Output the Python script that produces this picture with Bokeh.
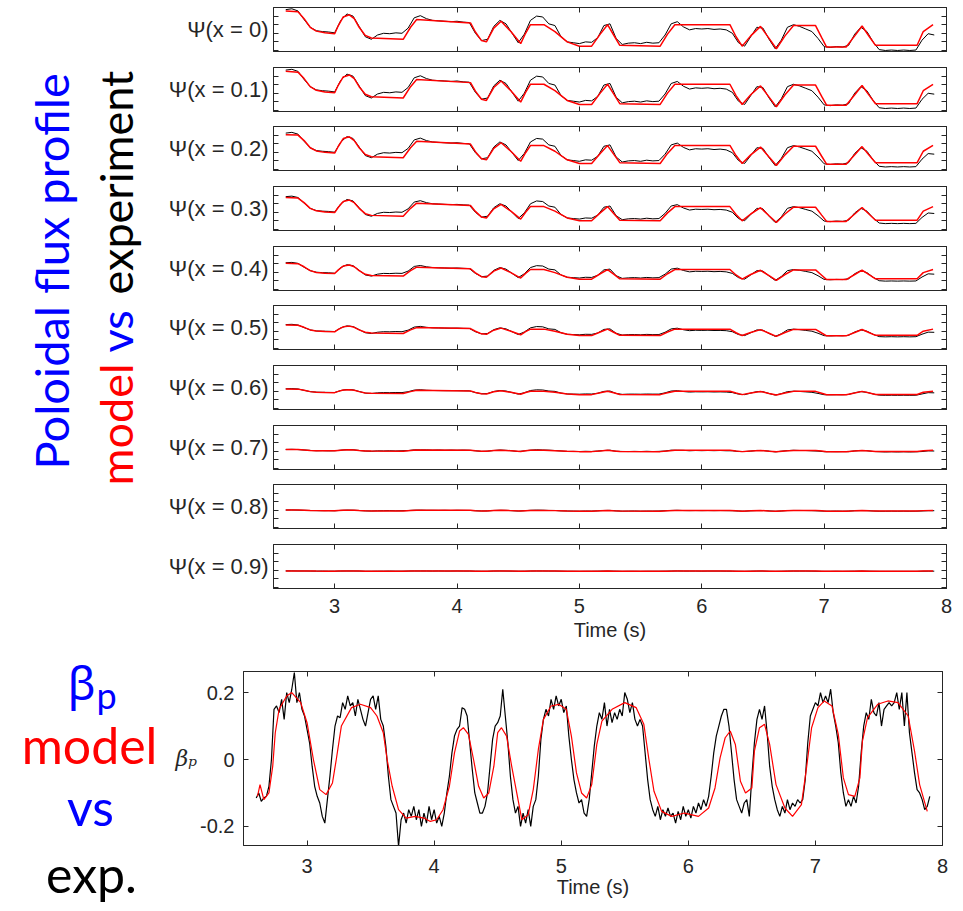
import numpy as np
from bokeh.plotting import figure
from bokeh.models import Range1d, FixedTicker, LinearAxis, Label
from bokeh.layouts import column, row
from bokeh.embed import file_html
from bokeh.resources import INLINE

# ---------------- data ----------------
PANEL_LABELS = ["Ψ(x = 0)", "Ψ(x = 0.1)", "Ψ(x = 0.2)", "Ψ(x = 0.3)", "Ψ(x = 0.4)",
                "Ψ(x = 0.5)", "Ψ(x = 0.6)", "Ψ(x = 0.7)", "Ψ(x = 0.8)", "Ψ(x = 0.9)"]
TIME_TICKS = [3, 4, 5, 6, 7, 8]
PSI_TICKS = [0, 1, 2, 3, 4]
BP_TICKS = [-0.2, 0, 0.2]
BP_TICK_TEXT = ["-0.2", "0", "0.2"]

# model time keys (s)
T_M = [2.60, 2.70, 2.75, 2.80, 2.85, 2.92, 3.00, 3.03, 3.07, 3.12, 3.16, 3.20, 3.25, 3.30, 3.56,
       3.62, 3.67, 4.11, 4.15, 4.20, 4.24, 4.30, 4.36, 4.44, 4.52, 4.56, 4.60, 4.71, 4.80, 4.90,
       5.00, 5.10, 5.17, 5.23, 5.28, 5.33, 5.66, 5.72, 5.78, 6.23, 6.28, 6.33, 6.40, 6.48, 6.55,
       6.61, 6.68, 6.75, 6.93, 6.98, 7.02, 7.18, 7.25, 7.31, 7.37, 7.42, 7.76, 7.81, 7.89]

PSI_M0 = [4.6, 4.5, 3.7, 2.7, 2.25, 2.05, 1.95, 2.9, 3.9, 4.15, 3.7, 2.7, 1.75, 1.45, 1.3, 2.7, 3.6, 3.2, 2.15, 1.15,
          1.0, 2.6, 3.4, 2.2, 0.8, 2.0, 3.0, 3.0, 2.2, 1.0, 0.5, 0.5, 1.9, 3.0, 1.8, 0.6, 0.5, 1.9, 3.0, 3.0,
          1.6, 0.5, 1.7, 2.8, 1.4, 0.2, 1.7, 2.9, 2.9, 1.5, 0.4, 0.4, 1.7, 2.85, 1.6, 0.6, 0.6, 2.2, 3.0]
PSI_M1 = [4.55, 4.46, 3.71, 2.77, 2.35, 2.16, 2.06, 2.96, 3.90, 4.13, 3.71, 2.77, 1.88, 1.59, 1.45, 2.77, 3.61, 3.24, 2.25, 1.31,
          1.17, 2.67, 3.43, 2.30, 0.98, 2.11, 3.05, 3.05, 2.30, 1.17, 0.70, 0.70, 2.02, 3.05, 1.92, 0.79, 0.70, 2.02, 3.05, 3.05,
          1.73, 0.70, 1.83, 2.86, 1.55, 0.42, 1.83, 2.96, 2.96, 1.64, 0.61, 0.61, 1.83, 2.91, 1.73, 0.79, 0.79, 2.30, 3.05]
PSI_M2 = [4.05, 4.0, 3.36, 2.53, 2.16, 1.99, 1.91, 2.70, 3.60, 3.80, 3.36, 2.53, 1.74, 1.49, 1.37, 2.53, 3.28, 2.95, 2.07, 1.24,
          1.12, 2.45, 3.11, 2.12, 0.95, 1.95, 2.78, 2.78, 2.12, 1.12, 0.70, 0.70, 1.87, 2.78, 1.78, 0.79, 0.70, 1.87, 2.80, 2.80,
          1.62, 0.70, 1.70, 2.61, 1.45, 0.46, 1.70, 2.70, 2.70, 1.54, 0.62, 0.62, 1.70, 2.66, 1.62, 0.79, 0.79, 2.12, 2.80]
PSI_M3 = [3.72, 3.65, 3.12, 2.46, 2.17, 2.03, 1.97, 2.59, 3.25, 3.42, 3.12, 2.46, 1.84, 1.64, 1.54, 2.46, 3.06, 2.79, 2.10, 1.44,
          1.34, 2.40, 2.92, 2.13, 1.21, 2.0, 2.66, 2.66, 2.13, 1.34, 1.01, 1.01, 1.93, 2.66, 1.87, 1.08, 1.01, 1.93, 2.66, 2.66,
          1.74, 1.01, 1.80, 2.53, 1.60, 0.81, 1.80, 2.59, 2.59, 1.67, 0.94, 0.94, 1.80, 2.56, 1.74, 1.08, 1.08, 2.13, 2.66]
PSI_M4 = [3.04, 3.0, 2.64, 2.19, 1.98, 1.89, 1.85, 2.28, 2.73, 2.84, 2.64, 2.19, 1.76, 1.62, 1.56, 2.19, 2.59, 2.41, 1.94, 1.49,
          1.42, 2.14, 2.50, 1.96, 1.33, 1.87, 2.32, 2.32, 1.96, 1.42, 1.20, 1.20, 1.83, 2.32, 1.78, 1.24, 1.20, 1.83, 2.32, 2.32,
          1.69, 1.20, 1.74, 2.23, 1.60, 1.06, 1.74, 2.28, 2.28, 1.65, 1.15, 1.15, 1.74, 2.25, 1.69, 1.24, 1.24, 1.96, 2.32]
PSI_M5 = [2.73, 2.70, 2.46, 2.16, 2.03, 1.97, 1.94, 2.22, 2.52, 2.60, 2.46, 2.16, 1.88, 1.79, 1.74, 2.16, 2.43, 2.31, 2.0, 1.70,
          1.65, 2.13, 2.37, 2.01, 1.59, 1.95, 2.25, 2.25, 2.01, 1.65, 1.50, 1.50, 1.92, 2.25, 1.89, 1.53, 1.50, 1.92, 2.25, 2.25,
          1.83, 1.50, 1.86, 2.19, 1.77, 1.41, 1.86, 2.22, 2.22, 1.80, 1.47, 1.47, 1.86, 2.21, 1.83, 1.53, 1.53, 2.01, 2.25]
PSI_M6 = [2.27, 2.25, 2.12, 1.96, 1.89, 1.86, 1.84, 1.99, 2.15, 2.19, 2.12, 1.96, 1.81, 1.76, 1.74, 1.96, 2.11, 2.04, 1.87, 1.71,
          1.69, 1.95, 2.07, 1.88, 1.66, 1.85, 2.01, 2.01, 1.88, 1.69, 1.61, 1.61, 1.83, 2.01, 1.82, 1.63, 1.61, 1.83, 2.01, 2.01,
          1.79, 1.61, 1.80, 1.98, 1.75, 1.56, 1.80, 1.99, 1.99, 1.77, 1.59, 1.59, 1.80, 1.99, 1.79, 1.63, 1.63, 1.88, 2.01]
PSI_M7 = [2.21, 2.20, 2.15, 2.09, 2.07, 2.05, 2.05, 2.10, 2.16, 2.18, 2.15, 2.09, 2.04, 2.02, 2.01, 2.09, 2.15, 2.12, 2.06, 2.00,
          1.99, 2.09, 2.13, 2.06, 1.98, 2.05, 2.11, 2.11, 2.06, 1.99, 1.96, 1.96, 2.04, 2.11, 2.04, 1.97, 1.96, 2.04, 2.11, 2.11,
          2.03, 1.96, 2.03, 2.10, 2.01, 1.94, 2.03, 2.10, 2.10, 2.02, 1.95, 1.95, 2.03, 2.10, 2.03, 1.97, 1.97, 2.06, 2.11]
PSI_M8 = [2.03, 2.03, 2.0, 1.97, 1.96, 1.95, 1.95, 1.98, 2.01, 2.01, 2.0, 1.97, 1.94, 1.93, 1.93, 1.97, 2.0, 1.99, 1.95, 1.92,
          1.92, 1.97, 1.99, 1.96, 1.91, 1.95, 1.98, 1.98, 1.96, 1.92, 1.90, 1.90, 1.95, 1.98, 1.94, 1.91, 1.90, 1.95, 1.98, 1.98,
          1.94, 1.90, 1.94, 1.97, 1.93, 1.90, 1.94, 1.98, 1.98, 1.94, 1.90, 1.90, 1.94, 1.98, 1.94, 1.91, 1.91, 1.96, 1.98]
PSI_M9 = [1.926, 1.925, 1.917, 1.907, 1.902, 1.90, 1.90, 1.909, 1.919, 1.921, 1.917, 1.907, 1.897, 1.894, 1.893, 1.907, 1.916, 1.912, 1.901, 1.891,
          1.89, 1.906, 1.914, 1.902, 1.888, 1.90, 1.91, 1.91, 1.902, 1.89, 1.885, 1.885, 1.899, 1.91, 1.898, 1.886, 1.885, 1.899, 1.91, 1.91,
          1.896, 1.885, 1.897, 1.908, 1.894, 1.882, 1.897, 1.909, 1.909, 1.895, 1.884, 1.884, 1.897, 1.909, 1.896, 1.886, 1.886, 1.902, 1.91]

# experiment, sampled every 0.05 s from 2.60 s
PSI_E0 = [4.75, 4.85, 4.6, 3.6, 2.7, 2.3, 2.2, 2.15, 2.05, 3.5,
          4.25, 4.0, 2.8, 1.6, 1.3, 1.8, 2.0, 1.95, 2.05, 2.0,
          2.6, 3.8, 4.05, 3.7, 3.5, 3.45, 3.4, 3.35, 3.4, 3.3,
          3.25, 2.0, 1.15, 1.3, 2.8, 3.5, 3.1, 2.0, 0.9, 1.9,
          3.5, 4.0, 3.9, 3.1, 2.9, 1.6, 1.0, 0.9, 0.8, 1.0,
          0.95, 1.5, 2.9, 3.1, 1.4, 0.7, 0.85, 0.9, 0.8, 0.95,
          0.85, 0.9, 1.8, 3.1, 3.35, 2.75, 2.4, 2.55, 2.5, 2.55,
          2.45, 2.5, 2.4, 2.0, 0.9, 0.5, 1.6, 2.7, 2.6, 1.3,
          0.2, 1.2, 2.7, 3.0, 2.8, 2.5, 2.2, 1.4, 0.45, 0.35,
          0.45, 0.4, 0.6, 1.9, 2.7, 2.2, 1.0, 0.1, 0.0, 0.05,
          0.0, 0.05, 0.0, 0.05, 1.2, 1.95, 1.8]
PSI_E1 = [4.70, 4.79, 4.55, 3.61, 2.77, 2.39, 2.30, 2.25, 2.16, 3.52,
          4.23, 3.99, 2.86, 1.73, 1.45, 1.92, 2.11, 2.06, 2.16, 2.11,
          2.67, 3.80, 4.04, 3.71, 3.52, 3.47, 3.43, 3.38, 3.43, 3.33,
          3.29, 2.11, 1.31, 1.45, 2.86, 3.52, 3.14, 2.11, 1.08, 2.02,
          3.52, 3.99, 3.90, 3.14, 2.96, 1.73, 1.17, 1.08, 0.98, 1.17,
          1.12, 1.64, 2.96, 3.14, 1.55, 0.89, 1.03, 1.08, 0.98, 1.12,
          1.03, 1.08, 1.92, 3.14, 3.38, 2.82, 2.49, 2.63, 2.58, 2.63,
          2.53, 2.58, 2.49, 2.11, 1.08, 0.70, 1.73, 2.77, 2.67, 1.45,
          0.42, 1.36, 2.77, 3.05, 2.86, 2.58, 2.30, 1.55, 0.65, 0.56,
          0.65, 0.61, 0.79, 2.02, 2.77, 2.30, 1.17, 0.32, 0.23, 0.28,
          0.23, 0.28, 0.23, 0.28, 1.30, 2.00, 1.90]
PSI_E2 = [4.23, 4.32, 4.11, 3.28, 2.53, 2.20, 2.12, 2.07, 1.99, 3.20,
          3.82, 3.61, 2.61, 1.62, 1.37, 1.78, 1.95, 1.91, 1.99, 1.95,
          2.45, 3.44, 3.65, 3.36, 3.20, 3.15, 3.11, 3.07, 3.11, 3.03,
          2.99, 1.95, 1.24, 1.37, 2.61, 3.20, 2.86, 1.95, 1.04, 1.87,
          3.20, 3.61, 3.53, 2.86, 2.70, 1.62, 1.12, 1.04, 0.95, 1.12,
          1.08, 1.54, 2.70, 2.86, 1.45, 0.87, 1.00, 1.04, 0.95, 1.08,
          1.00, 1.04, 1.78, 2.86, 3.07, 2.57, 2.28, 2.41, 2.37, 2.41,
          2.32, 2.37, 2.28, 1.95, 1.04, 0.70, 1.62, 2.53, 2.45, 1.37,
          0.46, 1.29, 2.53, 2.78, 2.61, 2.37, 2.12, 1.45, 0.66, 0.58,
          0.66, 0.62, 0.79, 1.87, 2.53, 2.12, 1.12, 0.37, 0.29, 0.33,
          0.29, 0.33, 0.29, 0.33, 1.20, 1.85, 1.78]
PSI_E3 = [3.82, 3.88, 3.72, 3.06, 2.46, 2.20, 2.13, 2.10, 2.03, 2.99,
          3.49, 3.32, 2.53, 1.74, 1.54, 1.87, 2.00, 1.97, 2.03, 2.00,
          2.40, 3.19, 3.35, 3.12, 2.99, 2.96, 2.92, 2.89, 2.92, 2.86,
          2.83, 2.00, 1.44, 1.54, 2.53, 2.99, 2.73, 2.00, 1.27, 1.93,
          2.99, 3.32, 3.25, 2.73, 2.59, 1.74, 1.34, 1.27, 1.21, 1.34,
          1.31, 1.67, 2.59, 2.73, 1.60, 1.14, 1.24, 1.27, 1.21, 1.31,
          1.24, 1.27, 1.87, 2.73, 2.89, 2.50, 2.26, 2.36, 2.33, 2.36,
          2.30, 2.33, 2.26, 2.00, 1.27, 1.01, 1.74, 2.46, 2.40, 1.54,
          0.81, 1.47, 2.46, 2.66, 2.53, 2.33, 2.13, 1.60, 0.98, 0.91,
          0.98, 0.94, 1.08, 1.93, 2.46, 2.13, 1.34, 0.75, 0.68, 0.71,
          0.68, 0.71, 0.68, 0.71, 1.40, 1.92, 1.86]
PSI_E4 = [3.11, 3.15, 3.04, 2.59, 2.19, 2.01, 1.96, 1.94, 1.89, 2.55,
          2.88, 2.77, 2.23, 1.69, 1.56, 1.78, 1.87, 1.85, 1.89, 1.87,
          2.14, 2.68, 2.79, 2.64, 2.55, 2.52, 2.50, 2.48, 2.50, 2.46,
          2.43, 1.87, 1.49, 1.56, 2.23, 2.55, 2.37, 1.87, 1.38, 1.83,
          2.55, 2.77, 2.73, 2.37, 2.28, 1.69, 1.42, 1.38, 1.33, 1.42,
          1.40, 1.65, 2.28, 2.37, 1.60, 1.29, 1.35, 1.38, 1.33, 1.40,
          1.35, 1.38, 1.78, 2.37, 2.48, 2.21, 2.05, 2.12, 2.10, 2.12,
          2.07, 2.10, 2.05, 1.87, 1.38, 1.20, 1.69, 2.19, 2.14, 1.56,
          1.06, 1.51, 2.19, 2.32, 2.23, 2.10, 1.96, 1.60, 1.17, 1.13,
          1.17, 1.15, 1.24, 1.83, 2.19, 1.96, 1.42, 1.02, 0.97, 0.99,
          0.97, 0.99, 0.97, 0.99, 1.45, 1.82, 1.78]
PSI_E5 = [2.78, 2.81, 2.73, 2.43, 2.16, 2.04, 2.01, 2.00, 1.97, 2.40,
          2.63, 2.55, 2.19, 1.83, 1.74, 1.89, 1.95, 1.94, 1.97, 1.95,
          2.13, 2.49, 2.57, 2.46, 2.40, 2.39, 2.37, 2.36, 2.37, 2.34,
          2.33, 1.95, 1.70, 1.74, 2.19, 2.40, 2.28, 1.95, 1.62, 1.92,
          2.40, 2.55, 2.52, 2.28, 2.22, 1.83, 1.65, 1.62, 1.59, 1.65,
          1.64, 1.80, 2.22, 2.28, 1.77, 1.56, 1.61, 1.62, 1.59, 1.64,
          1.61, 1.62, 1.89, 2.28, 2.36, 2.18, 2.07, 2.12, 2.10, 2.12,
          2.09, 2.10, 2.07, 1.95, 1.62, 1.50, 1.83, 2.16, 2.13, 1.74,
          1.41, 1.71, 2.16, 2.25, 2.19, 2.10, 2.01, 1.77, 1.49, 1.46,
          1.49, 1.47, 1.53, 1.92, 2.16, 2.01, 1.65, 1.38, 1.35, 1.37,
          1.35, 1.37, 1.35, 1.37, 1.66, 1.90, 1.88]
PSI_E6 = [2.29, 2.31, 2.27, 2.11, 1.96, 1.90, 1.88, 1.87, 1.86, 2.09,
          2.21, 2.17, 1.98, 1.79, 1.74, 1.82, 1.85, 1.84, 1.86, 1.85,
          1.95, 2.14, 2.18, 2.12, 2.09, 2.08, 2.07, 2.07, 2.07, 2.06,
          2.05, 1.85, 1.71, 1.74, 1.98, 2.09, 2.03, 1.85, 1.67, 1.83,
          2.09, 2.17, 2.15, 2.03, 1.99, 1.79, 1.69, 1.67, 1.66, 1.69,
          1.68, 1.77, 1.99, 2.03, 1.75, 1.64, 1.67, 1.67, 1.66, 1.68,
          1.67, 1.67, 1.82, 2.03, 2.07, 1.97, 1.91, 1.94, 1.93, 1.94,
          1.92, 1.93, 1.91, 1.85, 1.67, 1.61, 1.79, 1.96, 1.95, 1.74,
          1.56, 1.72, 1.96, 2.01, 1.98, 1.93, 1.88, 1.75, 1.60, 1.59,
          1.60, 1.59, 1.63, 1.83, 1.96, 1.88, 1.69, 1.55, 1.53, 1.54,
          1.53, 1.54, 1.53, 1.54, 1.69, 1.84, 1.82]
PSI_E7 = [2.21, 2.23, 2.20, 2.15, 2.10, 2.06, 2.07, 2.05, 2.06, 2.13,
          2.19, 2.18, 2.09, 2.03, 2.00, 2.05, 2.04, 2.06, 2.04, 2.06,
          2.08, 2.17, 2.16, 2.16, 2.13, 2.15, 2.12, 2.14, 2.12, 2.14,
          2.12, 2.06, 1.99, 2.02, 2.09, 2.15, 2.11, 2.06, 1.97, 2.05,
          2.13, 2.18, 2.15, 2.13, 2.09, 2.04, 1.98, 1.99, 1.97, 2.00,
          1.98, 2.03, 2.09, 2.13, 2.00, 1.98, 1.97, 1.99, 1.97, 2.00,
          1.97, 1.99, 2.03, 2.13, 2.12, 2.11, 2.06, 2.09, 2.07, 2.09,
          2.07, 2.09, 2.06, 2.06, 1.97, 1.97, 2.02, 2.10, 2.08, 2.02,
          1.93, 2.01, 2.08, 2.12, 2.09, 2.09, 2.05, 2.02, 1.95, 1.96,
          1.95, 1.96, 1.96, 2.05, 2.08, 2.07, 1.98, 1.95, 1.92, 1.94,
          1.92, 1.94, 1.92, 1.94, 1.97, 2.05, 2.03]
PSI_E8 = [2.03, 2.04, 2.02, 2.00, 1.97, 1.96, 1.95, 1.96, 1.94, 1.99,
          2.02, 2.01, 1.97, 1.93, 1.92, 1.94, 1.95, 1.96, 1.94, 1.95,
          1.97, 2.01, 2.02, 2.00, 2.00, 1.99, 2.00, 1.98, 2.00, 1.99,
          1.98, 1.95, 1.92, 1.93, 1.98, 2.00, 1.99, 1.95, 1.91, 1.95,
          2.00, 2.02, 2.01, 1.98, 1.98, 1.93, 1.92, 1.91, 1.90, 1.92,
          1.91, 1.94, 1.98, 1.99, 1.93, 1.90, 1.91, 1.92, 1.90, 1.91,
          1.91, 1.92, 1.95, 1.98, 2.00, 1.97, 1.96, 1.97, 1.96, 1.97,
          1.96, 1.97, 1.96, 1.95, 1.91, 1.90, 1.94, 1.97, 1.97, 1.93,
          1.89, 1.92, 1.97, 1.98, 1.98, 1.97, 1.96, 1.93, 1.90, 1.90,
          1.91, 1.90, 1.91, 1.95, 1.97, 1.96, 1.92, 1.89, 1.89, 1.90,
          1.89, 1.90, 1.89, 1.90, 1.92, 1.95, 1.95]
PSI_E9 = [1.93, 1.93, 1.92, 1.92, 1.91, 1.90, 1.91, 1.90, 1.90, 1.91,
          1.92, 1.92, 1.91, 1.89, 1.89, 1.90, 1.90, 1.91, 1.90, 1.90,
          1.91, 1.92, 1.92, 1.92, 1.91, 1.92, 1.91, 1.91, 1.92, 1.91,
          1.91, 1.90, 1.89, 1.89, 1.91, 1.92, 1.91, 1.90, 1.89, 1.90,
          1.91, 1.92, 1.92, 1.91, 1.91, 1.90, 1.89, 1.89, 1.88, 1.89,
          1.89, 1.90, 1.91, 1.91, 1.90, 1.88, 1.89, 1.89, 1.88, 1.89,
          1.89, 1.89, 1.90, 1.91, 1.92, 1.91, 1.91, 1.91, 1.90, 1.91,
          1.91, 1.91, 1.90, 1.90, 1.89, 1.88, 1.90, 1.91, 1.91, 1.89,
          1.88, 1.89, 1.91, 1.91, 1.91, 1.91, 1.90, 1.89, 1.88, 1.88,
          1.89, 1.88, 1.89, 1.90, 1.91, 1.90, 1.89, 1.88, 1.88, 1.88,
          1.88, 1.88, 1.88, 1.88, 1.89, 1.90, 1.90]

PSI_MODELS = [PSI_M0, PSI_M1, PSI_M2, PSI_M3, PSI_M4, PSI_M5, PSI_M6, PSI_M7, PSI_M8, PSI_M9]
PSI_EXPS = [PSI_E0, PSI_E1, PSI_E2, PSI_E3, PSI_E4, PSI_E5, PSI_E6, PSI_E7, PSI_E8, PSI_E9]
PSI_T0, PSI_DT = 2.60, 0.05

# beta_p
BP_T_MODEL = [2.61, 2.63, 2.66, 2.70, 2.73, 2.75, 2.78, 2.84, 2.88, 2.95, 3.00, 3.05, 3.10, 3.15, 3.20, 3.23,
              3.27, 3.35, 3.42, 3.50, 3.55, 3.60, 3.63, 3.67, 3.72, 3.78, 3.85, 3.92, 3.97, 4.02, 4.07, 4.12,
              4.16, 4.20, 4.23, 4.27, 4.31, 4.35, 4.39, 4.43, 4.47, 4.50, 4.53, 4.57, 4.61, 4.65, 4.69, 4.74,
              4.78, 4.82, 4.86, 4.92, 4.98, 5.04, 5.08, 5.12, 5.16, 5.20, 5.24, 5.28, 5.32, 5.40, 5.50, 5.59,
              5.65, 5.69, 5.73, 5.79, 5.87, 5.97, 6.08, 6.16, 6.21, 6.25, 6.29, 6.33, 6.37, 6.41, 6.45, 6.50,
              6.52, 6.56, 6.60, 6.64, 6.69, 6.76, 6.82, 6.89, 6.93, 6.97, 7.02, 7.07, 7.13, 7.18, 7.22, 7.26,
              7.31, 7.35, 7.37, 7.41, 7.49, 7.57, 7.65, 7.73, 7.78, 7.82, 7.88]
BP_MODEL = [-0.11, -0.075, -0.12, -0.10, -0.02, 0.08, 0.15, 0.19, 0.20, 0.17, 0.11, 0.00, -0.09, -0.105, -0.07, 0.00,
            0.10, 0.155, 0.165, 0.155, 0.13, 0.08, 0.00, -0.08, -0.15, -0.175, -0.17, -0.175, -0.185, -0.18, -0.15, -0.08,
            0.02, 0.085, 0.095, 0.075, 0.00, -0.08, -0.115, -0.10, -0.02, 0.08, 0.095, 0.07, -0.02, -0.10, -0.18, -0.165,
            -0.09, 0.03, 0.12, 0.16, 0.165, 0.15, 0.07, -0.04, -0.10, -0.115, -0.075, 0.045, 0.115, 0.15, 0.17, 0.155,
            0.105, 0.00, -0.095, -0.155, -0.17, -0.16, -0.17, -0.145, -0.085, 0.005, 0.065, 0.085, 0.045, -0.065, -0.10, -0.085,
            0.025, 0.095, 0.105, 0.045, -0.075, -0.145, -0.17, -0.135, -0.025, 0.095, 0.155, 0.175, 0.16, 0.075, -0.055, -0.105,
            -0.11, -0.055, 0.055, 0.125, 0.165, 0.175, 0.17, 0.13, 0.025, -0.075, -0.155]
# experiment, every 0.02 s from 2.60 s
BP_EXP = [-0.115, -0.10, -0.125, -0.115, -0.11, -0.08, 0.0, 0.15, 0.16, 0.14,
          0.18, 0.12, 0.20, 0.17, 0.21, 0.26, 0.17, 0.20, 0.15, 0.13,
          0.09, 0.05, -0.02, -0.08, -0.11, -0.13, -0.17, -0.19, -0.12, -0.05,
          0.03, 0.10, 0.13, 0.125, 0.17, 0.15, 0.19, 0.16, 0.17, 0.13,
          0.18, 0.15, 0.12, 0.10, 0.14, 0.18, 0.19, 0.15, 0.19, 0.12,
          0.10, 0.04, -0.05, -0.12, -0.14, -0.16, -0.26, -0.18, -0.16, -0.19,
          -0.15, -0.17, -0.14, -0.18, -0.15, -0.20, -0.16, -0.19, -0.14, -0.18,
          -0.15, -0.19, -0.17, -0.20, -0.16, -0.10, -0.05, 0.02, 0.07, 0.09,
          0.10, 0.155, 0.15, 0.13, 0.05, -0.03, -0.10, -0.13, -0.16, -0.16,
          -0.14, -0.10, -0.02, 0.06, 0.10, 0.11, 0.13, 0.21, 0.13, 0.05,
          -0.05, -0.12, -0.16, -0.14, -0.20, -0.16, -0.19, -0.15, -0.20, -0.14,
          -0.12, -0.05, 0.06, 0.12, 0.15, 0.13, 0.18, 0.15, 0.19, 0.16,
          0.18, 0.14, 0.16, 0.07, 0.0, -0.06, -0.10, -0.13, -0.12, -0.16,
          -0.17, -0.12, -0.04, 0.04, 0.10, 0.14, 0.12, 0.17, 0.10, 0.15,
          0.11, 0.14, 0.12, 0.15, 0.13, 0.20, 0.18, 0.14, 0.17, 0.12,
          0.10, 0.12, 0.10, 0.02, -0.06, -0.12, -0.15, -0.17, -0.14, -0.18,
          -0.15, -0.17, -0.145, -0.17, -0.16, -0.19, -0.155, -0.18, -0.14, -0.17,
          -0.15, -0.175, -0.14, -0.16, -0.13, -0.15, -0.12, -0.14, -0.11, -0.05,
          0.02, 0.07, 0.10, 0.13, 0.15, 0.15, 0.10, 0.02, -0.06, -0.12,
          -0.14, -0.16, -0.13, -0.12, -0.17, -0.05, 0.05, 0.12, 0.15, 0.12,
          0.16, 0.08, -0.02, -0.08, -0.12, -0.15, -0.17, -0.14, -0.16, -0.12,
          -0.15, -0.13, -0.14, -0.12, -0.13, -0.12, -0.06, 0.05, 0.13, 0.15,
          0.17, 0.16, 0.20, 0.17, 0.19, 0.17, 0.21, 0.14, 0.10, 0.05,
          -0.04, -0.10, -0.14, -0.12, -0.14, -0.11, -0.13, -0.08, 0.02, 0.10,
          0.14, 0.12, 0.18, 0.14, 0.13, 0.17, 0.10, 0.15, 0.16, 0.17,
          0.16, 0.17, 0.20, 0.15, 0.20, 0.10, 0.20, 0.08, 0.02, -0.04,
          -0.09, -0.10, -0.12, -0.15, -0.14, -0.11]
BP_T0, BP_DT = 2.60, 0.02

# ---------------- styling ----------------
AXC = "#262626"
SANS = "Liberation Sans"
RED = "#ff0000"
BLUE = "#0000ff"


def dress(ax, ticks, show, size="20px", standoff=8, overrides=None):
    ax.ticker = FixedTicker(ticks=ticks)
    ax.major_tick_in = 5
    ax.major_tick_out = 0
    ax.minor_tick_line_color = None
    ax.axis_line_color = AXC
    ax.major_tick_line_color = AXC
    ax.major_label_text_font = SANS
    if show:
        ax.major_label_text_font_size = size
        ax.major_label_text_color = AXC
        ax.major_label_standoff = standoff
    else:
        ax.major_label_text_font_size = "1px"
        ax.major_label_text_color = None
        ax.major_label_standoff = 0
    if overrides:
        ax.major_label_overrides = overrides


def axis_title(ax, text, size):
    ax.axis_label = text
    ax.axis_label_text_font = SANS
    ax.axis_label_text_font_style = "normal"
    ax.axis_label_text_font_size = size
    ax.axis_label_text_color = AXC


def decor_fig(w, h):
    f = figure(width=w, height=h, x_range=Range1d(0, w), y_range=Range1d(h, 0),
               output_backend="svg", toolbar_location=None, min_border=0,
               x_axis_location=None, y_axis_location=None)
    f.grid.visible = False
    f.outline_line_color = None
    return f


def caption(fig, x, y, text, color, size, font="Lato", angle=0.0, align="left"):
    fig.add_layout(Label(x=x, y=y, text=text, angle=angle, text_align=align, text_baseline="middle",
                         text_font=font, text_font_size=size, text_color=color))


# ---- flux panels ----
FRAME_TOPS = [7, 67, 126, 186, 246, 305, 365, 425, 484, 544]
FRAME_H = 44
LEFT_W = 160
FRAME_LEFT = 273
LAST_BOTTOM = 60
panels = []
for i in range(10):
    top_b = FRAME_TOPS[0] if i == 0 else 8
    bot_b = LAST_BOTTOM if i == 9 else FRAME_TOPS[i + 1] - (FRAME_TOPS[i] + FRAME_H) - 8
    p = figure(frame_width=673, frame_height=FRAME_H, x_range=Range1d(2.5, 8.0), y_range=Range1d(-0.12, 5.0),
               output_backend="svg", toolbar_location=None,
               min_border_left=FRAME_LEFT - LEFT_W, min_border_right=10,
               min_border_top=top_b, min_border_bottom=bot_b)
    p.grid.visible = False
    p.outline_line_color = AXC
    last = (i == 9)
    dress(p.xaxis[0], TIME_TICKS, last, standoff=10)
    dress(p.yaxis[0], PSI_TICKS, False)
    axis_title(p.yaxis[0], PANEL_LABELS[i], "22px")
    p.yaxis[0].axis_label_orientation = "horizontal"
    p.yaxis[0].axis_label_standoff = 5
    if last:
        axis_title(p.xaxis[0], "Time (s)", "20px")
        p.xaxis[0].axis_label_standoff = 3
    top_ax = LinearAxis()
    dress(top_ax, TIME_TICKS, False)
    p.add_layout(top_ax, "above")
    right_ax = LinearAxis()
    dress(right_ax, PSI_TICKS, False)
    p.add_layout(right_ax, "right")

    t_exp = [round(PSI_T0 + PSI_DT * k, 3) for k in range(len(PSI_EXPS[i]))]
    p.line(t_exp, PSI_EXPS[i], line_color="black", line_width=1.0)
    p.line(T_M, PSI_MODELS[i], line_color=RED, line_width=1.5)
    panels.append(p)

top_h = FRAME_TOPS[9] + FRAME_H + LAST_BOTTOM

# big rotated caption on the left of the flux panels (anchor = text middle)
left_top = decor_fig(LEFT_W, top_h)
caption(left_top, 50, 469, "Poloidal flux profile", BLUE, "47px", angle=np.pi / 2)
caption(left_top, 115, 485, "model", RED, "45px", angle=np.pi / 2)
caption(left_top, 115, 352, "vs", BLUE, "45px", angle=np.pi / 2)
caption(left_top, 115, 294, "experiment", "black", "45px", angle=np.pi / 2)

# ---- beta_p panel ----
BOT_LEFT_W = 170
bp = figure(frame_width=699, frame_height=174, x_range=Range1d(2.5, 8.0), y_range=Range1d(-0.257, 0.263),
            output_backend="svg", toolbar_location=None,
            min_border_left=243 - BOT_LEFT_W, min_border_right=10, min_border_top=671 - top_h, min_border_bottom=58)
bp.grid.visible = False
bp.outline_line_color = AXC
dress(bp.xaxis[0], TIME_TICKS, True, standoff=13)
dress(bp.yaxis[0], BP_TICKS, True, standoff=9, overrides={t: s for t, s in zip(BP_TICKS, BP_TICK_TEXT)})
axis_title(bp.xaxis[0], "Time (s)", "20px")
bp.xaxis[0].axis_label_standoff = 0
bp.yaxis[0].axis_label = "βₚ"
bp.yaxis[0].axis_label_text_font = "DejaVu Serif"
bp.yaxis[0].axis_label_text_font_style = "italic"
bp.yaxis[0].axis_label_text_font_size = "22px"
bp.yaxis[0].axis_label_text_color = AXC
bp.yaxis[0].axis_label_orientation = "horizontal"
bp.yaxis[0].axis_label_standoff = 0
ax_t = LinearAxis()
dress(ax_t, TIME_TICKS, False)
bp.add_layout(ax_t, "above")
ax_r = LinearAxis()
dress(ax_r, BP_TICKS, False)
bp.add_layout(ax_r, "right")
bp_t = [round(BP_T0 + BP_DT * k, 3) for k in range(len(BP_EXP))]
bp.line(bp_t, BP_EXP, line_color="black", line_width=1.2)
bp.line(BP_T_MODEL, BP_MODEL, line_color=RED, line_width=1.2)

bot_h = (671 - top_h) + 174 + 58
left_bot = decor_fig(BOT_LEFT_W, bot_h)
caption(left_bot, 67, 681 - top_h, "β", BLUE, "46px", font="Noto Sans")
caption(left_bot, 96, 694 - top_h, "p", BLUE, "36px")
caption(left_bot, 89, 744 - top_h, "model", RED, "50px", align="center")
caption(left_bot, 90, 806 - top_h, "vs", BLUE, "50px", align="center")
caption(left_bot, 91, 873 - top_h, "exp.", "black", "50px", align="center")

layout = column(row(left_top, column(*panels)), row(left_bot, column(bp)))
open("out.html", "w").write(file_html(layout, INLINE))
